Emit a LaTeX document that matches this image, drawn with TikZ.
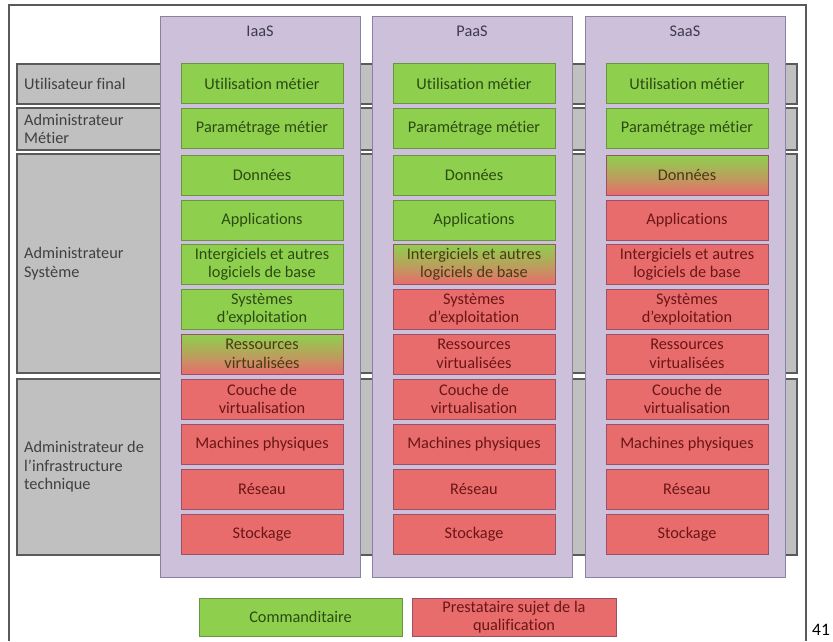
\documentclass[tikz,border=0pt]{standalone}
\usepackage{fontspec}
\setmainfont{Carlito}[Ligatures=NoCommon]
\definecolor{rowfill}{HTML}{C0C0C0}
\definecolor{rowline}{HTML}{5A5A5A}
\definecolor{rowtext}{HTML}{404040}
\definecolor{colfill}{HTML}{CCC0DA}
\definecolor{colline}{HTML}{8C82A0}
\definecolor{coltext}{HTML}{3C3C4C}
\definecolor{okfill}{HTML}{8ED04E}
\definecolor{okline}{HTML}{6A9440}
\definecolor{oktext}{HTML}{2C4A12}
\definecolor{prfill}{HTML}{E96C6C}
\definecolor{prline}{HTML}{9A5068}
\definecolor{prtext}{HTML}{6A1616}
\definecolor{mixtext}{HTML}{4A3A14}
\tikzset{
  txt/.style={font=\fontsize{16.3}{18.5}\selectfont},
  rowband/.style={draw=rowline, line width=1.1pt, fill=rowfill},
  rowlabel/.style={txt, text=rowtext, anchor=west, align=left, inner sep=0pt},
  colbox/.style={draw=colline, line width=1pt, fill=colfill},
  coltitle/.style={txt, text=coltext, inner sep=0pt},
  layer/.style={txt, minimum width=162pt, minimum height=40pt, inner sep=0pt,
    align=center, line width=0.9pt},
  okbox/.style={layer, draw=okline, fill=okfill, text=oktext},
  prbox/.style={layer, draw=prline, fill=prfill, text=prtext},
  mixbox/.style={layer, draw=prline, top color=okfill, bottom color=prfill,
    middle color=okfill!55!prfill, text=mixtext},
  legendok/.style={okbox, minimum width=203pt, minimum height=38pt},
  legendpr/.style={prbox, minimum width=204pt, minimum height=38pt},
}
\begin{document}
\begin{tikzpicture}[x=1pt, y=-1pt]
  \useasboundingbox (0,0) rectangle (833,641);
  % page frame, open at the bottom
  \draw[draw=rowline, line width=1.2pt] (9,641) -- (9,5) -- (806,5) -- (806,641);

  % role bands
  \draw[rowband] (17,64) rectangle (797,104);
  \draw[rowband] (17,108) rectangle (797,150);
  \draw[rowband] (17,154) rectangle (797,373);
  \draw[rowband] (17,379) rectangle (797,555);
  \node[rowlabel] (r1) at (24,84) {Utilisateur final};
  \node[rowlabel] (r2) at (24,129) {Administrateur\\Métier};
  \node[rowlabel] (r3) at (24,263.5) {Administrateur\\Système};
  \node[rowlabel] (r4) at (24,467) {Administrateur de\\l’infrastructure\\technique};

  % service model columns
  \foreach \c/\cx/\t in {i/160/IaaS, p/372/PaaS, s/585/SaaS}{
    \draw[colbox] (\cx,16) rectangle (\cx+200,577);
    \node[coltitle] (\c t) at (\cx+100,31.5) {\t};
  }

  % layers: green below the split, shaded at the split, red above it
  \foreach \c/\cx/\g in {i/160/7, p/372/5, s/585/3}{
    \foreach \n/\yc/\lbl in {
      1/83.5/{Utilisation métier},
      2/128.5/{Paramétrage métier},
      3/175/{Données},
      4/220/{Applications},
      5/264/{Intergiciels et autres\\logiciels de base},
      6/309/{Systèmes\\d’exploitation},
      7/354/{Ressources\\virtualisées},
      8/399/{Couche de\\virtualisation},
      9/444/{Machines physiques},
      10/489/{Réseau},
      11/534/{Stockage}}{
      \ifnum\n<\g \def\st{okbox}\else\ifnum\n=\g \def\st{mixbox}\else\def\st{prbox}\fi\fi
      \node[\st] (\c\n) at (\cx+102,\yc) {\lbl};
    }
  }

  % legend
  \node[legendok] (lok) at (300.5,617) {Commanditaire};
  \node[legendpr] (lpr) at (514,617) {Prestataire sujet de la\\qualification};

  % page number
  \node[text=black, inner sep=0pt, font=\fontsize{17.5}{20}\selectfont] (pg) at (821,629.5) {41};
\end{tikzpicture}
\end{document}
